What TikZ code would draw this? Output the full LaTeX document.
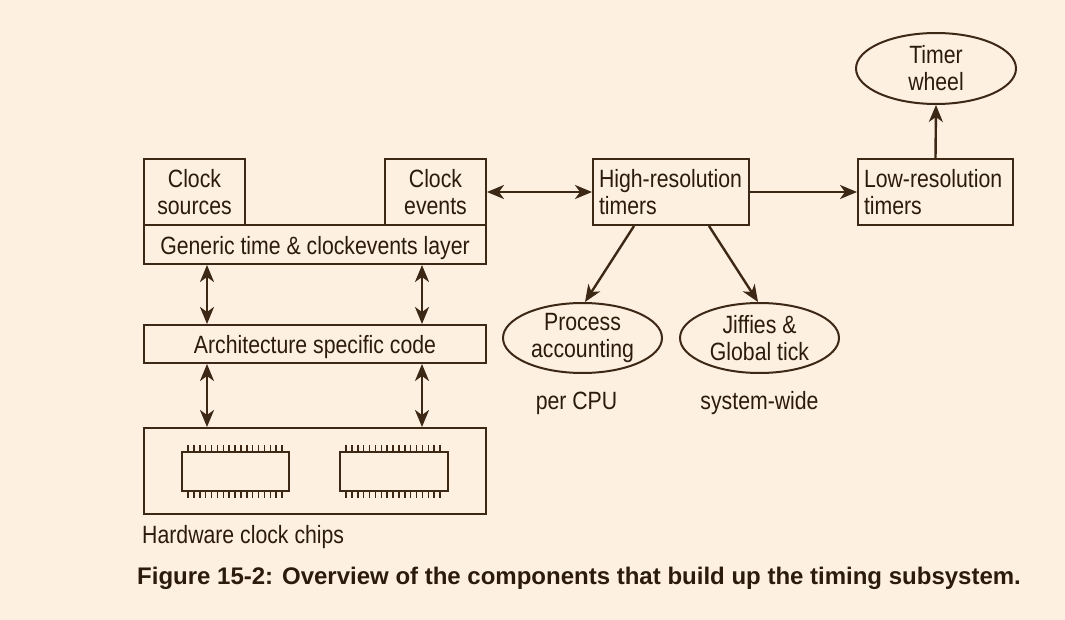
\documentclass[tikz,border=0pt]{standalone}
\usepackage{fontspec}
\setmainfont{Liberation Sans}[FakeStretch=0.85]
\newfontfamily\capfont{Liberation Sans}[FakeStretch=1.0]
\usetikzlibrary{arrows.meta,shapes.geometric,calc}
\definecolor{bg}{HTML}{FDF0E1}
\definecolor{ln}{HTML}{3D2815}
\definecolor{tx}{HTML}{2B1B0B}
\begin{document}
\begin{tikzpicture}[x=1pt,y=-1pt,
  font=\fontsize{25}{27}\selectfont,
  box/.style={draw=ln,line width=2pt,inner sep=0pt,text=tx,align=center},
  ell/.style={ellipse,draw=ln,line width=2pt,inner sep=0pt,text=tx,align=center},
  arr/.style={draw=ln,line width=2.4pt,-{Stealth[length=17pt,width=14pt,inset=5pt]}},
  darr/.style={draw=ln,line width=2.4pt,{Stealth[length=17pt,width=14pt,inset=5pt]}-{Stealth[length=17pt,width=14pt,inset=5pt]}},
  pin/.style={draw=ln,line width=1.5pt},
  lbl/.style={text=tx,inner sep=0pt}]
\fill[bg] (0,0) rectangle (1065,620);
\useasboundingbox (0,0) rectangle (1065,620);

% left column
\node[box,minimum width=101pt,minimum height=66pt] (cs) at (194.5,192) {Clock\\sources};
\node[box,minimum width=101pt,minimum height=66pt] (ce) at (435.5,192) {Clock\\events};
\node[box,minimum width=342pt,minimum height=39pt,text height=20pt,text depth=0pt] (gen) at (315,244.5) {Generic time \& clockevents layer};
\node[box,minimum width=342pt,minimum height=38pt,text height=18pt,text depth=0pt] (arch) at (315,344) {Architecture specific code};
\node[box,minimum width=342pt,minimum height=86pt] (hw) at (315,471) {};
\node[draw=ln,line width=2pt,minimum width=107pt,minimum height=39pt,inner sep=0pt] (c1) at (235.5,471.5) {};
\node[draw=ln,line width=2pt,minimum width=108pt,minimum height=39pt,inner sep=0pt] (c2) at (394,471.5) {};
\foreach \c in {c1,c2}{
  \foreach \i in {0,...,16}{
    \draw[pin] ($(\c.north west)+(7+\i*5.875,0)$) -- ++(0,-6);
    \draw[pin] ($(\c.south west)+(7+\i*5.875,0)$) -- ++(0,6);
  }
}
\node[lbl,anchor=base west] (hwl) at (142,543) {Hardware clock chips};

\coordinate (v1) at (207,0);
\coordinate (v2) at (422,0);
\draw[darr] (gen.south -| v1) -- (arch.north -| v1);
\draw[darr] (gen.south -| v2) -- (arch.north -| v2);
\draw[darr] (arch.south -| v1) -- (hw.north -| v1);
\draw[darr] (arch.south -| v2) -- (hw.north -| v2);

% right part
\node[box,minimum width=156pt,minimum height=66pt,text width=144pt,align=left] (hr) at (671,192) {High-resolution\\timers};
\node[box,minimum width=155pt,minimum height=66pt,text width=143pt,align=left] (lr) at (935.5,192) {Low-resolution\\timers};
\node[ell,minimum width=160pt,minimum height=71pt] (tw) at (936,68.5) {Timer\\wheel};
\node[ell,minimum width=159pt,minimum height=70pt] (pa) at (582.5,338) {Process\\accounting};
\node[ell,minimum width=159pt,minimum height=70pt] (jf) at (759.5,338) {Jiffies \&\\Global tick};
\node[lbl,anchor=base] (pcpu) at (576.5,409.5) {per CPU};
\node[lbl,anchor=base] (sw) at (759.5,409.5) {system-wide};

\draw[darr] (ce.east) -- (hr.west);
\draw[arr] (hr.east) -- (lr.west);
\draw[arr] (lr.north) -- (tw.south);
\draw[arr] ($(hr.south west)+(42,0)$) -- ($(pa.north)+(2.5,0)$);
\draw[arr] ($(hr.south west)+(117,0)$) -- ($(jf.north)+(-1.5,0)$);

\node[lbl,anchor=base west,font=\capfont\bfseries\fontsize{24}{28}\selectfont] (cap) at (137,584) {Figure 15-2: Overview of the components that build up the timing subsystem.};
\end{tikzpicture}
\end{document}
